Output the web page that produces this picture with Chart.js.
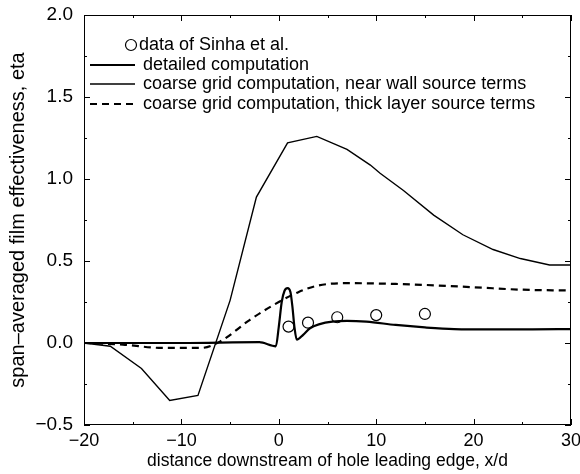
<!DOCTYPE html>
<html>
<head>
<meta charset="utf-8">
<script src="https://cdn.jsdelivr.net/npm/chart.js@4/dist/chart.umd.min.js"></script>
<style>
  html, body { margin: 0; padding: 0; background: #fff; }
  canvas { display: block; }
</style>
</head>
<body>
<canvas id="myChart" width="580" height="474"></canvas>
<script>
// data
const sinhaX = [1, 3, 6, 10, 15]
const sinhaY = [0.10, 0.124, 0.157, 0.17, 0.177]

const detailedX = [-20, -10, -2, -0.3, 0, 0.3, 0.6, 0.9, 1.2, 1.4, 1.6, 1.85, 2.5, 3.2, 4.2, 5.5, 7, 9, 12, 15, 18, 22, 26, 30]
const detailedY = [0, 0, 0.005, -0.02, 0.1, 0.25, 0.32, 0.335, 0.31, 0.22, 0.1, 0.02, 0.05, 0.09, 0.115, 0.13, 0.135, 0.13, 0.11, 0.095, 0.085, 0.083, 0.083, 0.085]

const nearWallX = [-20, -17.3, -14.1, -11.2, -8.3, -5, -2.3, 0.9, 3.9, 7, 9.4, 10.4, 12.8, 15.9, 18.9, 22, 24.8, 27.8, 30]
const nearWallY = [0, -0.02, -0.155, -0.35, -0.32, 0.26, 0.89, 1.22, 1.26, 1.18, 1.085, 1.035, 0.93, 0.78, 0.66, 0.57, 0.515, 0.476, 0.476]

const thickX = [-20, -16, -12, -8, -6, -3, 0, 2, 4, 7, 12, 15, 20, 25, 30]
const thickY = [0, -0.01, -0.03, -0.03, 0.01, 0.14, 0.25, 0.31, 0.35, 0.365, 0.36, 0.354, 0.34, 0.325, 0.32]

const xTicks = [-20, -10, 0, 10, 20, 30]
const yTicks = [-0.5, 0.0, 0.5, 1.0, 1.5, 2.0]

const legendLabels = [
  'data of Sinha et al.',
  'detailed computation',
  'coarse grid computation, near wall source terms',
  'coarse grid computation, thick layer source terms'
]

const pts = (xs, ys) => xs.map((x, i) => ({ x: x, y: ys[i] }))
const minus = s => String(s).replace('-', '\u2212')

Chart.defaults.font.family = '"Liberation Sans", Arial, Helvetica, sans-serif'
Chart.defaults.color = '#000'

// inward tick marks on all four sides, plus the frame
const frameTicks = {
  id: 'frameTicks',
  afterDraw (chart) {
    const ctx = chart.ctx
    const a = chart.chartArea
    const xs = chart.scales.x
    const ys = chart.scales.y
    ctx.save()
    ctx.strokeStyle = '#000'
    ctx.lineWidth = 1
    ctx.strokeRect(a.left + 0.5, a.top + 0.5, a.right - a.left - 1, a.bottom - a.top - 1)
    ctx.beginPath()
    for (let v = xs.min; v <= xs.max + 1e-9; v += 5) {
      const px = Math.round(xs.getPixelForValue(v)) + 0.5
      const len = (Math.abs(v % 10) < 1e-9) ? 6 : 3
      ctx.moveTo(px, a.bottom); ctx.lineTo(px, a.bottom - len)
      ctx.moveTo(px, a.top); ctx.lineTo(px, a.top + len)
    }
    for (let v = ys.min; v <= ys.max + 1e-9; v += 0.25) {
      const py = Math.round(ys.getPixelForValue(v)) + 0.5
      const len = (Math.abs((v * 2) % 1) < 1e-9) ? 6 : 3
      ctx.moveTo(a.left, py); ctx.lineTo(a.left + len, py)
      ctx.moveTo(a.right, py); ctx.lineTo(a.right - len, py)
    }
    ctx.stroke()
    ctx.restore()
  }
}

// legend laid out like the original, inside the plot
const insideLegend = {
  id: 'insideLegend',
  afterDraw (chart) {
    const ctx = chart.ctx
    ctx.save()
    ctx.font = '18px "Liberation Sans", Arial, sans-serif'
    ctx.fillStyle = '#000'
    ctx.textBaseline = 'middle'
    ctx.strokeStyle = '#000'
    ctx.lineWidth = 1.2
    ctx.beginPath()
    ctx.arc(131, 45, 5.5, 0, Math.PI * 2)
    ctx.stroke()
    ctx.fillText(legendLabels[0], 139, 45)
    const rows = [
      { y: 65, w: 2.2, dash: [] },
      { y: 84, w: 1.3, dash: [] },
      { y: 104, w: 2.2, dash: [7, 5] }
    ]
    rows.forEach((r, i) => {
      ctx.lineWidth = r.w
      ctx.setLineDash(r.dash)
      ctx.beginPath()
      ctx.moveTo(90, r.y); ctx.lineTo(135, r.y)
      ctx.stroke()
      ctx.setLineDash([])
      ctx.fillText(legendLabels[i + 1], 143, r.y)
    })
    ctx.restore()
  }
}

const myChartRef = document.getElementById('myChart').getContext('2d')

new Chart(myChartRef, {
  type: 'scatter',
  data: {
    datasets: [
      {
        label: legendLabels[0],
        data: pts(sinhaX, sinhaY),
        showLine: false,
        pointStyle: 'circle',
        pointRadius: 5.5,
        pointBorderWidth: 1.2,
        pointBorderColor: '#000',
        pointBackgroundColor: 'rgba(255,255,255,0)'
      },
      {
        label: legendLabels[1],
        data: pts(detailedX, detailedY),
        showLine: true,
        borderColor: '#000',
        borderWidth: 2.2,
        pointRadius: 0,
        cubicInterpolationMode: 'monotone'
      },
      {
        label: legendLabels[2],
        data: pts(nearWallX, nearWallY),
        showLine: true,
        borderColor: '#000',
        borderWidth: 1.4,
        pointRadius: 0,
        tension: 0
      },
      {
        label: legendLabels[3],
        data: pts(thickX, thickY),
        showLine: true,
        borderColor: '#000',
        borderWidth: 2.2,
        borderDash: [7, 5],
        pointRadius: 0,
        cubicInterpolationMode: 'monotone'
      }
    ]
  },
  options: {
    responsive: false,
    animation: false,
    layout: { padding: { top: 15, right: 9, left: 0, bottom: 0 } },
    plugins: {
      legend: { display: false },
      tooltip: { enabled: false }
    },
    scales: {
      x: {
        type: 'linear',
        min: -20,
        max: 30,
        afterFit: s => { s.height = 49; s.paddingLeft = 0; s.paddingRight = 0 },
        afterBuildTicks: s => { s.ticks = xTicks.map(v => ({ value: v })) },
        ticks: {
          font: { size: 18 },
          padding: 5,
          maxRotation: 0,
          callback: v => minus(v)
        },
        grid: { display: false, drawTicks: false },
        border: { display: false },
        title: {
          display: true,
          text: 'distance downstream of hole leading edge, x/d',
          font: { size: 17.5 },
          padding: { top: 0, bottom: 2 }
        }
      },
      y: {
        type: 'linear',
        min: -0.5,
        max: 2.0,
        afterFit: s => { s.width = 84; s.paddingTop = 0; s.paddingBottom = 0 },
        afterBuildTicks: s => { s.ticks = yTicks.map(v => ({ value: v })) },
        ticks: {
          font: { size: 19 },
          padding: 11,
          callback: v => minus(Number(v).toFixed(1))
        },
        grid: { display: false, drawTicks: false },
        border: { display: false },
        title: {
          display: true,
          text: 'span\u2013averaged film effectiveness, eta',
          font: { size: 20 },
          padding: { top: 6, bottom: 0 }
        }
      }
    }
  },
  plugins: [frameTicks, insideLegend]
})
</script>
</body>
</html>
